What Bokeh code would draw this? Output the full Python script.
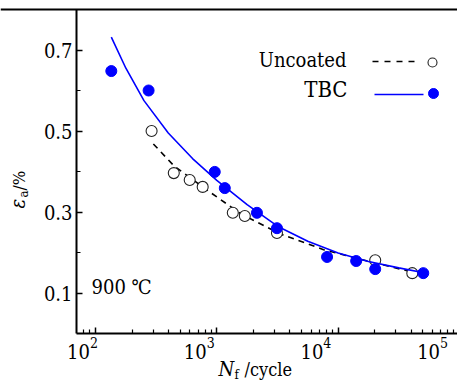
import math
from bokeh.plotting import figure
from bokeh.models import (Range1d, LogAxis, LogScale, FixedTicker, Label, Span,
                          CustomJSTickFormatter)
from bokeh.embed import file_html
from bokeh.resources import INLINE

# ---------------- data ----------------
TBC_N = [135, 274, 962, 1164, 2143, 3133, 8110, 14090, 20230, 50350]
TBC_E = [0.648, 0.600, 0.399, 0.359, 0.298, 0.260, 0.189, 0.179, 0.159, 0.149]

UNC_N = [290, 442, 598, 765, 1355, 1702, 3133, 20230, 40900]
UNC_E = [0.500, 0.396, 0.379, 0.362, 0.298, 0.290, 0.248, 0.181, 0.149]

TBC_FIT_N = [135, 178, 251, 398, 631, 1000, 1778, 3162, 5623, 10000, 17783, 31623, 54954]
TBC_FIT_E = [0.732, 0.655, 0.575, 0.495, 0.432, 0.378, 0.318, 0.265, 0.228, 0.199, 0.178, 0.162, 0.148]

UNC_FIT_N = [300, 447, 851, 1585, 3388, 7586, 15849, 28840, 40738]
UNC_FIT_E = [0.468, 0.413, 0.352, 0.295, 0.245, 0.207, 0.182, 0.163, 0.152]

X_TICKS = [100, 1000, 10000, 100000]
X_MINOR = [80, 90,
           200, 300, 400, 500, 600, 700, 800, 900,
           2000, 3000, 4000, 5000, 6000, 7000, 8000, 9000,
           20000, 30000, 40000, 50000, 60000, 70000, 80000, 90000]
Y_TICKS = [0.1, 0.3, 0.5, 0.7]
Y_MINOR = [0.2, 0.4, 0.6]
Y_BOTTOM, Y_TOP = 0.0, 0.8

SERIES_NAMES = ["Uncoated", "TBC"]
TEMP_TEXT = "900 \u2103"

# ---------------- layout / style ----------------
FONT = "DejaVu Serif Condensed"
BLUE = "#0000ff"
W, H = 457, 383
# pixel mapping of the frame (frame = whole canvas, axes drawn at fixed locations)
X_REF_PX, X_REF_LOG, X_DEC_PX = 95.0, 2.0, 121.3     # 10^2 at x=95, 121.3 px per decade
Y_ZERO_PX, Y_UNIT_PX = 333.0, 405.0                   # eps=0 at y=333, 405 px per unit
LAB_REF_PX, LAB_DEC_PX = 82.0, 116.7                  # where the power-of-ten labels sit
AXIS_LEFT_PX = 76.0
BASELINE_FIX = 0.4                                    # measured baseline drop, x font size


def u_at(px, ref_px=X_REF_PX, dec=X_DEC_PX):
    return X_REF_LOG + (px - ref_px) / dec


def page_x_to_data(px):
    return 10 ** u_at(px)


def page_y_to_data(py):
    return (Y_ZERO_PX - py) / Y_UNIT_PX


p = figure(width=W, height=H, x_axis_type="log",
           x_range=Range1d(page_x_to_data(0), page_x_to_data(W)),
           y_range=Range1d(page_y_to_data(H), page_y_to_data(0)),
           output_backend="svg", toolbar_location=None,
           min_border_left=0, min_border_right=0,
           min_border_top=0, min_border_bottom=0)
p.background_fill_color = "white"
p.border_fill_color = "white"
p.outline_line_color = None
p.xgrid.visible = False
p.ygrid.visible = False

x_left = page_x_to_data(AXIS_LEFT_PX)

# main x axis: line + ticks only, drawn at eps = 0
xa = p.xaxis[0]
xa.fixed_location = Y_BOTTOM
xa.bounds = (x_left, page_x_to_data(W))
xa.ticker = FixedTicker(ticks=X_TICKS, minor_ticks=X_MINOR)
xa.formatter = CustomJSTickFormatter(code="return ''")
xa.major_label_text_font_size = "1px"
xa.major_label_standoff = 0
xa.axis_line_width = 2
xa.axis_line_color = "black"
xa.major_tick_in = 6
xa.major_tick_out = 0
xa.minor_tick_in = 4
xa.minor_tick_out = 0
xa.major_tick_line_width = 1.5
xa.minor_tick_line_width = 1.2

# label axis for the powers of ten (labels sit a little left of their ticks)
p.extra_x_ranges = {"xlab": Range1d(10 ** u_at(0, LAB_REF_PX, LAB_DEC_PX),
                                    10 ** u_at(W, LAB_REF_PX, LAB_DEC_PX))}
p.extra_x_scales = {"xlab": LogScale()}
lab_axis = LogAxis(x_range_name="xlab", fixed_location=Y_BOTTOM,
                   ticker=FixedTicker(ticks=X_TICKS, minor_ticks=[]),
                   axis_line_color=None, major_tick_line_color=None,
                   minor_tick_line_color=None,
                   major_tick_in=0, major_tick_out=0,
                   minor_tick_in=0, minor_tick_out=0,
                   major_label_standoff=3,
                   major_label_text_font=FONT,
                   major_label_text_font_size="20px",
                   major_label_text_color="black")
p.add_layout(lab_axis, "below")

ya = p.yaxis[0]
ya.fixed_location = x_left
ya.bounds = (Y_BOTTOM, Y_TOP)
ya.ticker = FixedTicker(ticks=Y_TICKS, minor_ticks=Y_MINOR)
ya.major_label_text_font = FONT
ya.major_label_text_font_size = "20px"
ya.major_label_text_color = "black"
ya.major_label_standoff = 4
ya.axis_line_width = 2
ya.axis_line_color = "black"
ya.major_tick_in = 6
ya.major_tick_out = 0
ya.minor_tick_in = 4
ya.minor_tick_out = 0
ya.major_tick_line_width = 1.5
ya.minor_tick_line_width = 1.2

p.add_layout(Span(location=Y_TOP, dimension="width", line_color="black", line_width=2))

# ---------------- data marks ----------------
p.line(UNC_FIT_N, UNC_FIT_E, line_color="black", line_width=1.6, line_dash="6 5")
p.scatter(UNC_N, UNC_E, marker="circle", size=11, fill_color="white",
          line_color="#222222", line_width=1.1)
p.line(TBC_FIT_N, TBC_FIT_E, line_color=BLUE, line_width=1.6)
p.scatter(TBC_N, TBC_E, marker="circle", size=11, fill_color=BLUE, line_color=BLUE)

# ---------------- legend (samples to the right of the names) ----------------
p.line([page_x_to_data(372), page_x_to_data(420)], [page_y_to_data(61)] * 2,
       line_color="black", line_width=1.6, line_dash="6 6")
p.scatter([page_x_to_data(432)], [page_y_to_data(62)], marker="circle", size=9,
          fill_color="white", line_color="#222222", line_width=1.1)
p.line([page_x_to_data(374), page_x_to_data(423)], [page_y_to_data(94)] * 2,
       line_color=BLUE, line_width=1.6)
p.scatter([page_x_to_data(433)], [page_y_to_data(93)], marker="circle", size=10,
          fill_color=BLUE, line_color=BLUE)


def add_label(text, px, py, size, align="left", style="normal", rotated=False):
    fix = BASELINE_FIX * size
    if rotated:
        px -= fix
    else:
        py -= fix
    p.add_layout(Label(x=page_x_to_data(px), y=page_y_to_data(py),
                       x_units="data", y_units="data",
                       text=text, text_font=FONT, text_font_size=f"{size}px",
                       text_font_style=style, text_color="black",
                       text_align=align, text_baseline="alphabetic",
                       angle=math.pi / 2 if rotated else 0.0))


add_label(SERIES_NAMES[0], 346, 67, 20, align="right")
add_label(SERIES_NAMES[1], 347, 98, 22, align="right")
add_label(TEMP_TEXT, 91, 294, 20)

# x axis title: N_f /cycle
add_label("N", 218, 376, 20, style="italic")
add_label("f", 234, 379, 13)
add_label("/cycle", 244, 376, 18)

# y axis title: epsilon_a /%
add_label("\u03b5", 25, 208, 20, style="italic", rotated=True)
add_label("a", 28, 197, 13, rotated=True)
add_label("/%", 25, 190, 17, rotated=True)

open("out.html", "w").write(file_html(p, INLINE))
